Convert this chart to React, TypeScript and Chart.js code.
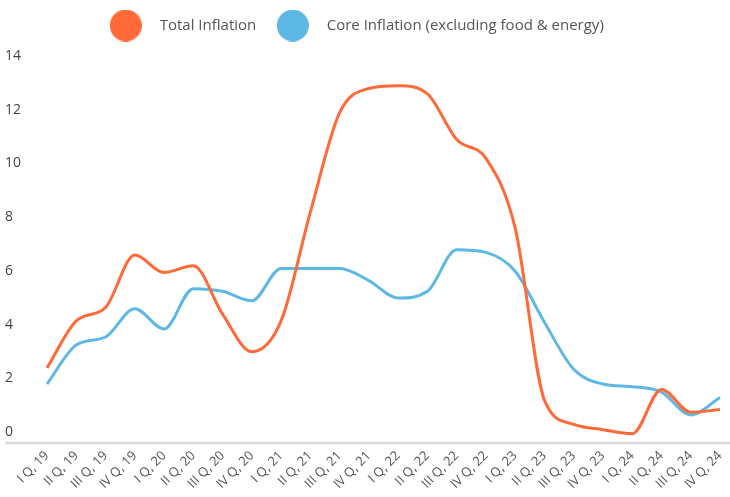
import React, { useEffect, useRef } from 'react';
import { Chart, registerables } from 'chart.js';

Chart.register(...registerables);

const categories = [
  'I Q, 19', 'II Q, 19', 'III Q, 19', 'IV Q, 19',
  'I Q, 20', 'II Q, 20', 'III Q, 20', 'IV Q, 20',
  'I Q, 21', 'II Q, 21', 'III Q, 21', 'IV Q, 21',
  'I Q, 22', 'II Q, 22', 'III Q, 22', 'IV Q, 22',
  'I Q, 23', 'II Q, 23', 'III Q, 23', 'IV Q, 23',
  'I Q, 24', 'II Q, 24', 'III Q, 24', 'IV Q, 24',
];

const totalInflation = [
  2.8, 4.55, 5.05, 7.0,
  6.35, 6.6, 4.8, 3.4,
  4.55, 8.6, 12.3, 13.2,
  13.3, 13.0, 11.3, 10.6,
  8.0, 1.6, 0.7, 0.5,
  0.35, 2.0, 1.15, 1.25,
];

const coreInflation = [
  2.2, 3.65, 3.95, 5.0,
  4.25, 5.75, 5.65, 5.3,
  6.5, 6.5, 6.5, 6.05,
  5.4, 5.65, 7.2, 7.1,
  6.4, 4.5, 2.75, 2.2,
  2.1, 1.9, 1.05, 1.7,
];

const yMin = 0;
const yMax = 14;
const yStep = 2;

const seriesNames = ['Total Inflation', 'Core Inflation (excluding food & energy)'];
const seriesColors = ['#ff6a38', '#5eb8e5'];

const FONT = "'Open Sans', 'Noto Sans', sans-serif";

function circleIcon(color: string, size: number): HTMLCanvasElement {
  const c = document.createElement('canvas');
  c.width = size;
  c.height = size;
  const ctx = c.getContext('2d')!;
  ctx.fillStyle = color;
  ctx.beginPath();
  ctx.arc(size / 2, size / 2, size / 2, 0, Math.PI * 2);
  ctx.fill();
  return c;
}

const baselinePlugin = {
  id: 'baseline',
  beforeDatasetsDraw(chart: any) {
    const y = chart.scales.y.getPixelForValue(0);
    const ctx = chart.ctx;
    ctx.save();
    ctx.strokeStyle = '#dcdcdc';
    ctx.lineWidth = 2.5;
    ctx.beginPath();
    ctx.moveTo(5, y);
    ctx.lineTo(chart.width, y);
    ctx.stroke();
    ctx.restore();
  },
};

const legendTweakPlugin = {
  id: 'legendTweak',
  beforeInit(chart: any) {
    const legend = chart.legend;
    if (!legend) return;
    const origFit = legend.fit.bind(legend);
    legend.fit = function () {
      origFit();
      this.height += 26;
    };
    const origDraw = legend.draw.bind(legend);
    legend.draw = function () {
      const ctx = this.ctx;
      ctx.save();
      ctx.translate(-11, 2);
      origDraw();
      ctx.restore();
    };
  },
};

export default function App() {
  const ref = useRef<HTMLCanvasElement | null>(null);

  useEffect(() => {
    document.body.style.margin = '0';
    const icons = seriesColors.map((c) => circleIcon(c, 32));
    const chart = new Chart(ref.current!, {
      type: 'line',
      data: {
        labels: categories,
        datasets: [
          {
            label: seriesNames[0],
            data: totalInflation,
            borderColor: seriesColors[0],
            backgroundColor: seriesColors[0],
            borderWidth: 3,
            pointRadius: 0,
            pointHoverRadius: 0,
            cubicInterpolationMode: 'monotone',
          },
          {
            label: seriesNames[1],
            data: coreInflation,
            borderColor: seriesColors[1],
            backgroundColor: seriesColors[1],
            borderWidth: 3,
            pointRadius: 0,
            pointHoverRadius: 0,
            cubicInterpolationMode: 'monotone',
          },
        ],
      },
      options: {
        animation: false,
        responsive: true,
        maintainAspectRatio: false,
        layout: { padding: { left: 5, right: 10, top: 6, bottom: 0 } },
        plugins: {
          tooltip: { enabled: false },
          legend: {
            display: true,
            position: 'top',
            labels: {
              usePointStyle: true,
              pointStyleWidth: 53,
              padding: 10,
              color: '#555555',
              font: { family: FONT, size: 15 },
              generateLabels: (ch: any) => {
                const items = Chart.defaults.plugins.legend.labels.generateLabels(ch);
                items.forEach((it: any, i: number) => {
                  it.pointStyle = icons[i];
                });
                return items;
              },
            },
          },
        },
        scales: {
          x: {
            grid: { display: false, drawTicks: false },
            border: { display: false },
            afterFit: (scale: any) => {
              scale.paddingLeft = 0;
              scale.paddingRight = 0;
            },
            ticks: {
              autoSkip: false,
              maxRotation: 45,
              minRotation: 45,
              padding: 5,
              color: '#555555',
              font: { family: FONT, size: 13 },
            },
          },
          y: {
            min: yMin,
            max: yMax,
            grid: { display: false, drawTicks: false },
            border: { display: false },
            ticks: {
              stepSize: yStep,
              crossAlign: 'far',
              padding: 13,
              labelOffset: -11,
              color: '#444444',
              font: { family: FONT, size: 14 },
            },
          },
        },
      },
      plugins: [baselinePlugin, legendTweakPlugin],
    });
    return () => chart.destroy();
  }, []);

  return (
    <div style={{ position: 'relative', width: '730px', height: '497px' }}>
      <canvas ref={ref} />
    </div>
  );
}
